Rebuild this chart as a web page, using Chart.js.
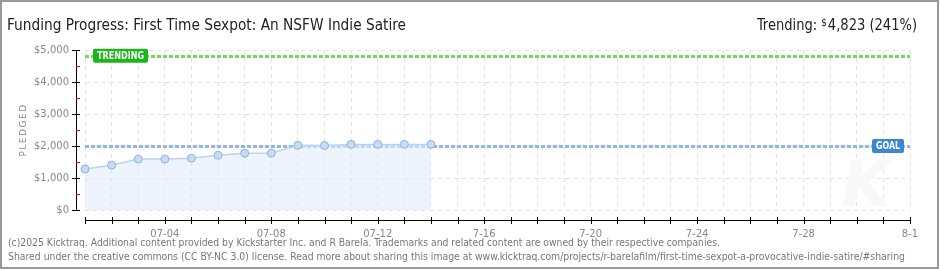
<!DOCTYPE html>
<html>
<head>
<meta charset="utf-8">
<script src="https://cdn.jsdelivr.net/npm/chart.js@4.4.1/dist/chart.umd.min.js"></script>
<style>
html,body{margin:0;padding:0;background:#fff;}
#wrap{position:relative;width:940px;height:270px;}
canvas{display:block;}
</style>
</head>
<body>
<div id="wrap"><canvas id="c" width="940" height="270"></canvas></div>
<script>
const dates = ['07-01','07-02','07-03','07-04','07-05','07-06','07-07','07-08','07-09','07-10','07-11','07-12','07-13','07-14','7-15','7-16','7-17','7-18','7-19','7-20','7-21','7-22','7-23','7-24','7-25','7-26','7-27','7-28','7-29','7-30','7-31','8-1'];
const pledged = [1280,1400,1590,1590,1620,1710,1775,1775,2020,2015,2050,2050,2050,2050];
const goal = 2000;
const trending = 4823;
const yTicks = [0,1000,2000,3000,4000,5000];
const titleText = 'Funding Progress: First Time Sexpot: An NSFW Indie Satire';
const trendText = ['Trending: ', '$', '4,823 (241%)'];
const footer1 = '(c)2025 Kicktraq. Additional content provided by Kickstarter Inc. and R Barela. Trademarks and related content are owned by their respective companies.';
const footer2 = 'Shared under the creative commons (CC BY-NC 3.0) license. Read more about sharing this image at www.kicktraq.com/projects/r-barelafilm/first-time-sexpot-a-provocative-indie-satire/#sharing';

function fitText(ctx, text, x, y, width) {
  const w = ctx.measureText(text).width;
  ctx.save();
  ctx.translate(x, y);
  ctx.scale(width / w, 1);
  ctx.fillText(text, 0, 0);
  ctx.restore();
}

const decor = {
  id: 'decor',
  beforeDatasetsDraw(chart) {
    const {ctx, chartArea: a, scales: {x, y}} = chart;
    ctx.save();
    ctx.fillStyle = '#f8f8f8';
    ctx.font = 'italic bold 64px "DejaVu Sans"';
    ctx.textAlign = 'center';
    ctx.textBaseline = 'alphabetic';
    ctx.fillText('K', 866, 206);
    const lines = [[trending, '#74d858'], [goal, '#93b7e3']];
    for (const [v, col] of lines) {
      const py = Math.round(y.getPixelForValue(v)) + 0.5;
      ctx.strokeStyle = col;
      ctx.lineWidth = 3;
      ctx.setLineDash([4, 2]);
      ctx.beginPath();
      ctx.moveTo(a.left, py);
      ctx.lineTo(a.right, py);
      ctx.stroke();
    }
    ctx.restore();
  },
  afterDatasetsDraw(chart) {
    const {ctx, chartArea: a, scales: {x, y}} = chart;
    ctx.save();
    ctx.setLineDash([]);
    ctx.strokeStyle = '#000';
    ctx.lineWidth = 1;
    ctx.beginPath();
    ctx.moveTo(76.5, y.getPixelForValue(5000));
    ctx.lineTo(76.5, y.getPixelForValue(0));
    ctx.stroke();
    for (const v of yTicks) {
      const py = Math.round(y.getPixelForValue(v)) + 0.5;
      ctx.beginPath(); ctx.moveTo(72, py); ctx.lineTo(80, py); ctx.stroke();
    }
    ctx.strokeStyle = '#e00000';
    for (let v = 500; v < 5000; v += 1000) {
      const py = Math.round(y.getPixelForValue(v)) + 0.5;
      ctx.beginPath(); ctx.moveTo(76, py); ctx.lineTo(80, py); ctx.stroke();
    }
    ctx.strokeStyle = '#000';
    const ay = 220.5;
    ctx.beginPath(); ctx.moveTo(a.left, ay); ctx.lineTo(a.right + 1, ay); ctx.stroke();
    for (let i = 0; i < dates.length; i++) {
      const px = Math.round(x.getPixelForValue(i)) + 0.5;
      ctx.beginPath(); ctx.moveTo(px, 217); ctx.lineTo(px, 224); ctx.stroke();
    }
    function box(text, x0, y0, w, h, col) {
      ctx.fillStyle = col;
      ctx.beginPath();
      ctx.roundRect(x0, y0, w, h, 2);
      ctx.fill();
      ctx.fillStyle = '#fff';
      ctx.font = 'bold 10px "DejaVu Sans"';
      ctx.textAlign = 'left';
      ctx.textBaseline = 'middle';
      ctx.fillText(text, x0 + 4, y0 + h / 2 + 0.5, w - 8);
    }
    const ty = y.getPixelForValue(trending);
    box('TRENDING', 93, ty - 7, 55, 14, '#1cb51c');
    const gy = y.getPixelForValue(goal);
    box('GOAL', 872, gy - 7, 32, 14, '#3b87d4');
    ctx.restore();
  },
  afterDraw(chart) {
    const ctx = chart.ctx;
    ctx.save();
    ctx.fillStyle = '#222';
    ctx.font = '15px "DejaVu Sans Condensed"';
    ctx.textAlign = 'left';
    ctx.textBaseline = 'alphabetic';
    fitText(ctx, titleText, 7, 30, 399);
    const w1 = ctx.measureText(trendText[0]).width;
    ctx.font = '10px "DejaVu Sans Condensed"';
    const w2 = ctx.measureText(trendText[1]).width;
    ctx.font = '15px "DejaVu Sans Condensed"';
    const w3 = ctx.measureText(trendText[2]).width;
    const total = w1 + w2 + w3 + 1;
    const scale = Math.min(1, 160 / total);
    ctx.translate(917 - total * scale, 0);
    ctx.scale(scale, 1);
    ctx.fillText(trendText[0], 0, 30);
    ctx.font = '10px "DejaVu Sans Condensed"';
    ctx.fillText(trendText[1], w1, 26);
    ctx.font = '15px "DejaVu Sans Condensed"';
    ctx.fillText(trendText[2], w1 + w2 + 1, 30);
    ctx.setTransform(1, 0, 0, 1, 0, 0);
    ctx.fillStyle = '#888';
    ctx.font = '9px "DejaVu Sans"';
    ctx.translate(24, 130);
    ctx.rotate(-Math.PI / 2);
    ctx.textAlign = 'center';
    ctx.textBaseline = 'middle';
    if ('letterSpacing' in ctx) ctx.letterSpacing = '1.5px';
    ctx.fillText('PLEDGED', 0, 0);
    if ('letterSpacing' in ctx) ctx.letterSpacing = '0px';
    ctx.setTransform(1, 0, 0, 1, 0, 0);
    ctx.fillStyle = '#777';
    ctx.font = '10px "DejaVu Sans Condensed"';
    ctx.textAlign = 'left';
    ctx.textBaseline = 'alphabetic';
    fitText(ctx, footer1, 8, 246, 712);
    fitText(ctx, footer2, 8, 260, 897);
    ctx.strokeStyle = '#999';
    ctx.lineWidth = 2;
    ctx.strokeRect(1, 1, 937, 267);
    ctx.restore();
  }
};

new Chart(document.getElementById('c'), {
  type: 'line',
  data: {
    labels: dates,
    datasets: [{
      data: pledged,
      borderColor: '#b9d4f1',
      borderWidth: 1.5,
      backgroundColor: 'rgba(225,237,252,0.6)',
      fill: 'origin',
      tension: 0,
      pointRadius: 4,
      pointBackgroundColor: '#c4dcf6',
      pointBorderColor: '#92b2d8',
      pointBorderWidth: 1
    }]
  },
  options: {
    responsive: false,
    animation: false,
    events: [],
    layout: {padding: {left: 0, right: 30, top: 50, bottom: 0}},
    plugins: {legend: {display: false}, tooltip: {enabled: false}},
    scales: {
      x: {
        type: 'category',
        offset: false,
        grid: {color: '#e2e2e2', drawTicks: false, lineWidth: 1},
        border: {display: false, dash: [4, 4]},
        ticks: {
          autoSkip: false, maxRotation: 0, padding: 18,
          color: '#888', font: {family: 'DejaVu Sans', size: 10},
          callback: (v, i) => (i % 4 === 3 ? dates[i] : '')
        },
        afterFit: s => { s.height = 60; }
      },
      y: {
        min: 0, max: 5000,
        grid: {color: '#e2e2e2', drawTicks: false, lineWidth: 1},
        border: {display: false, dash: [4, 4]},
        ticks: {
          stepSize: 1000, padding: 16,
          color: '#888', font: {family: 'DejaVu Sans', size: 10},
          callback: v => '$' + v.toLocaleString('en-US')
        },
        afterFit: s => { s.width = 85; }
      }
    }
  },
  plugins: [decor]
});
</script>
</body>
</html>
